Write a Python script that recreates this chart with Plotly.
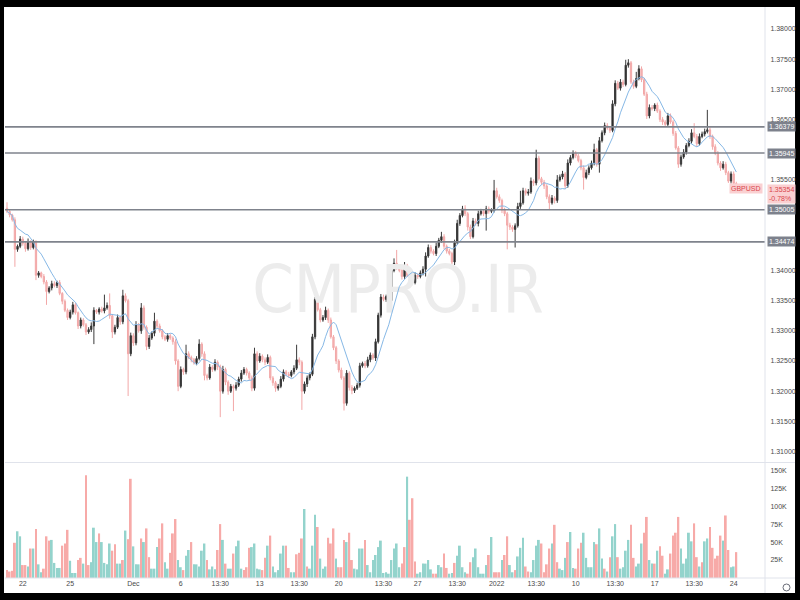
import plotly.graph_objects as go
import pandas as pd

# ---------------- data (GBPUSD, 4h candles) ----------------
first_open = 1.3503
closes = [
    1.3498, 1.3492, 1.3484, 1.3435, 1.3440, 1.3452,
    1.3445, 1.3436, 1.3448, 1.3438, 1.3447, 1.3392,
    1.3396, 1.3390, 1.3381, 1.3365, 1.3371, 1.3378,
    1.3375, 1.3380, 1.3362, 1.3349, 1.3334, 1.3322,
    1.3331, 1.3343, 1.3330, 1.3308, 1.3318, 1.3310,
    1.3298, 1.3302, 1.3308, 1.3334, 1.3331, 1.3336,
    1.3333, 1.3338, 1.3342, 1.3325, 1.3298, 1.3306,
    1.3322, 1.3315, 1.3358, 1.3350, 1.3262, 1.3292,
    1.3280, 1.3310, 1.3300, 1.3338, 1.3306, 1.3274,
    1.3288, 1.3296, 1.3316, 1.3308, 1.3300, 1.3290,
    1.3286, 1.3292, 1.3288, 1.3282, 1.3250, 1.3208,
    1.3236, 1.3232, 1.3262, 1.3256, 1.3252, 1.3247,
    1.3254, 1.3278, 1.3262, 1.3226, 1.3222, 1.3240,
    1.3236, 1.3248, 1.3240, 1.3200, 1.3236, 1.3215,
    1.3200, 1.3208, 1.3205, 1.3210, 1.3220, 1.3230,
    1.3236, 1.3230, 1.3222, 1.3205, 1.3262, 1.3250,
    1.3258, 1.3252, 1.3248, 1.3256, 1.3222, 1.3214,
    1.3205, 1.3208, 1.3220, 1.3232, 1.3228, 1.3226,
    1.3232, 1.3238, 1.3252, 1.3248, 1.3200, 1.3212,
    1.3222, 1.3228, 1.3290, 1.3352, 1.3335, 1.3318,
    1.3322, 1.3334, 1.3318, 1.3290, 1.3272, 1.3250,
    1.3235, 1.3222, 1.3180, 1.3230, 1.3206, 1.3201,
    1.3205, 1.3210, 1.3242, 1.3246, 1.3242, 1.3252,
    1.3260, 1.3255, 1.3282, 1.3326, 1.3356, 1.3352,
    1.3357, 1.3350, 1.3400, 1.3412, 1.3405, 1.3400,
    1.3390, 1.3408, 1.3392, 1.3388, 1.3380, 1.3392,
    1.3390, 1.3396, 1.3402, 1.3424, 1.3438, 1.3432,
    1.3428, 1.3440, 1.3450, 1.3456, 1.3440, 1.3432,
    1.3428, 1.3414, 1.3446, 1.3478, 1.3491, 1.3502,
    1.3494, 1.3472, 1.3456, 1.3482, 1.3478, 1.3494,
    1.3498, 1.3494, 1.3502, 1.3498, 1.3500, 1.3532,
    1.3522, 1.3516, 1.3500, 1.3494, 1.3475, 1.3472,
    1.3468, 1.3474, 1.3506, 1.3512, 1.3532, 1.3528,
    1.3530, 1.3548, 1.3545, 1.3586, 1.3552, 1.3546,
    1.3540, 1.3522, 1.3512, 1.3520, 1.3516, 1.3550,
    1.3555, 1.3560, 1.3540, 1.3578, 1.3587, 1.3594,
    1.3590, 1.3582, 1.3570, 1.3554, 1.3562, 1.3570,
    1.3578, 1.3600, 1.3576, 1.3615, 1.3628, 1.3640,
    1.3636, 1.3632, 1.3676, 1.3710, 1.3702, 1.3712,
    1.3708, 1.3740, 1.3744, 1.3712, 1.3705, 1.3718,
    1.3734, 1.3716, 1.3692, 1.3656, 1.3670, 1.3668,
    1.3674, 1.3664, 1.3650, 1.3646, 1.3642, 1.3656,
    1.3646, 1.3627, 1.3603, 1.3576, 1.3588, 1.3596,
    1.3607, 1.3614, 1.3628, 1.3622, 1.3610, 1.3622,
    1.3626, 1.3630, 1.3633, 1.3622, 1.3605, 1.3594,
    1.3578, 1.3570, 1.3576, 1.3562, 1.3548, 1.3560,
    1.3544, 1.35354,
]

# wick lengths beyond the body, in pips
wick_up_pips = [
    10, 3, 2, 4, 3, 5,   4, 3, 5, 2, 4, 3,   3, 2, 4, 3, 3, 5,   4, 3, 4, 2, 3, 3,
    4, 5, 3, 2, 4, 3,    3, 4, 6, 5, 2, 3,   4, 22, 5, 20, 3, 4, 5, 3, 10, 4, 3, 5,
    4, 6, 3, 8, 4, 3,    5, 3, 14, 3, 4, 3,  3, 4, 3, 3, 4, 3,   5, 3, 15, 4, 3, 3,
    4, 8, 3, 4, 3, 5,    3, 5, 3, 4, 6, 3,   3, 4, 3, 5, 4, 5,   4, 3, 3, 4, 10, 4,
    5, 3, 4, 5, 3, 3,    3, 4, 5, 4, 3, 4,   3, 5, 25, 4, 3, 4,  4, 3, 5, 4, 4, 3,
    4, 6, 3, 4, 3, 3,    3, 4, 3, 5, 3, 4,   3, 4, 5, 3, 4, 5,   4, 3, 5, 4, 5, 4,
    3, 4, 6, 8, 22, 4,   4, 6, 3, 4, 3, 5,   3, 4, 5, 6, 5, 4,   3, 6, 4, 8, 4, 3,
    4, 3, 5, 6, 4, 5,    6, 3, 4, 5, 4, 5,   4, 3, 5, 4, 3, 18,  5, 4, 3, 4, 3, 4,
    3, 4, 6, 20, 5, 4,   5, 6, 3, 14, 4, 3,  4, 3, 4, 5, 3, 8,   4, 5, 3, 6, 4, 5,
    4, 3, 3, 4, 5, 4,    4, 10, 3, 6, 4, 5,  4, 3, 6, 5, 4, 5,   4, 9, 6, 3, 4, 11,
    6, 4, 3, 4, 5, 4,    3, 4, 3, 4, 3, 5,   4, 3, 4, 3, 4, 5,   4, 5, 6, 16, 4, 5,
    4, 5, 33, 4, 3, 4,   4, 3, 5, 4, 3, 4,   4, 3,
]
wick_dn_pips = [
    3, 4, 3, 29, 4, 3,   4, 5, 3, 4, 3, 8,   4, 3, 4, 22, 3, 4,  3, 4, 3, 5, 3, 4,
    3, 4, 3, 5, 4, 3,    5, 3, 4, 30, 3, 4,  3, 4, 3, 5, 10, 4,  3, 5, 4, 3, 70, 4,
    5, 4, 3, 5, 4, 6,    4, 3, 5, 4, 3, 4,   3, 4, 3, 5, 6, 8,   3, 5, 4, 3, 4, 3,
    4, 3, 5, 8, 4, 3,    4, 3, 5, 43, 4, 5,  6, 3, 38, 4, 3, 4,  3, 4, 5, 5, 4, 15,
    3, 4, 5, 3, 4, 5,    6, 4, 3, 4, 3, 4,   3, 4, 3, 5, 31, 4,  5, 4, 3, 4, 3, 4,
    3, 4, 5, 3, 4, 5,    4, 3, 12, 4, 5, 6,  4, 3, 4, 3, 4, 3,   4, 3, 5, 3, 4, 3,
    4, 3, 4, 3, 4, 3,    5, 4, 3, 6, 4, 3,   4, 3, 4, 12, 3, 4,  3, 4, 3, 4, 5, 4,
    3, 4, 5, 3, 4, 3,    4, 6, 4, 3, 4, 5,   3, 4, 28, 4, 3, 4,  3, 4, 5, 4, 40, 5,
    4, 30, 3, 4, 3, 4,   4, 3, 5, 4, 3, 4,   5, 4, 12, 3, 5, 4,  3, 4, 5, 3, 4, 3,
    4, 3, 4, 20, 3, 4,   3, 4, 4, 14, 3, 4,  3, 4, 3, 4, 3, 4,   4, 3, 4, 3, 4, 3,
    3, 4, 3, 5, 4, 3,    4, 3, 4, 5, 3, 4,   3, 4, 3, 6, 4, 3,   4, 3, 4, 3, 5, 3,
    3, 4, 3, 4, 5, 3,    4, 5, 3, 4, 3, 4,   3, 4,
]

# volume in thousands, and bar colour (t = teal / up, p = pink / down)
volume_k = [
    11, 9, 10, 49, 65, 58, 18, 18, 16, 41,
    41, 68, 19, 8, 13, 58, 52, 53, 21, 14,
    14, 45, 48, 67, 24, 7, 7, 25, 28, 20,
    143, 18, 22, 70, 50, 62, 50, 21, 19, 48,
    38, 47, 20, 20, 25, 66, 54, 138, 44, 19,
    19, 55, 50, 69, 29, 13, 13, 43, 55, 76,
    22, 13, 35, 62, 82, 25, 15, 11, 31, 39,
    50, 19, 19, 16, 38, 48, 25, 12, 16, 12,
    39, 75, 53, 20, 13, 13, 34, 44, 52, 13,
    11, 15, 42, 43, 48, 13, 12, 11, 28, 45,
    59, 16, 8, 11, 34, 45, 45, 14, 8, 8,
    33, 35, 55, 96, 16, 13, 45, 88, 71, 27,
    13, 16, 56, 48, 69, 27, 15, 15, 53, 50,
    63, 25, 13, 12, 41, 41, 53, 18, 8, 25,
    32, 43, 52, 7, 8, 6, 25, 41, 48, 15,
    20, 43, 141, 81, 111, 23, 6, 8, 20, 20,
    25, 12, 6, 6, 18, 15, 34, 14, 6, 7,
    21, 31, 45, 15, 8, 6, 22, 29, 41, 15,
    6, 6, 18, 32, 57, 8, 8, 8, 25, 32,
    58, 18, 8, 11, 30, 42, 56, 16, 9, 8,
    25, 45, 53, 48, 8, 19, 41, 48, 74, 22,
    13, 11, 28, 50, 64, 14, 13, 41, 49, 63,
    28, 15, 15, 50, 47, 69, 27, 13, 9, 29,
    58, 75, 29, 13, 15, 38, 53, 74, 28, 16,
    20, 48, 63, 85, 25, 20, 20, 38, 44, 31,
    6, 12, 34, 59, 63, 85, 41, 20, 27, 63,
    51, 76, 29, 16, 22, 51, 55, 71, 42, 27,
    31, 59, 52, 87, 39, 15, 16, 36,
]
volume_dir = (
    "ppppttpptp" "tpttpppttt" "tppptttppt" "pptttptttt" "ppttptpptt"
    "tptpptttpp" "ttpppttptt" "ptttttpttt" "pptpttpttt" "pppttttppt"
    "ptttttpptt" "ppptptttpt" "ttppptpppt" "ppttttpttt" "ttttttttt" "t"
    "pptppptttt" "ttppttpptt" "pttttppttt" "tttptppptp" "pttptttppt"
    "tttpppptpp" "tttpttpppt" "ttttpttptp" "ttpttttppt" "ttppttptpp"
    "ttpppptttt" "tpptpttppp" "pptppttp"
)

levels = [1.36379, 1.35945, 1.35005, 1.34474]
level_labels = ["1.36379", "1.35945", "1.35005", "1.34474"]
last_price = 1.35354
last_price_label = "1.35354"
change_label = "-0.78%"
symbol = "GBPUSD"
watermark = "CMPRO.IR"

time_tick_idx = [6, 24, 48, 66, 81, 96, 111, 126, 143, 156, 171, 186, 201, 216, 231, 246, 261, 276]
time_tick_text = ["22", "25", "Dec", "6", "13:30", "13", "13:30", "20", "13:30", "27",
                  "13:30", "2022", "13:30", "10", "13:30", "17", "13:30", "24"]
# 1.345, 1.350 and 1.360 sit under the level labels, so they are not shown
price_ticks = [1.31, 1.315, 1.32, 1.325, 1.33, 1.335, 1.34, 1.355,
               1.365, 1.37, 1.375, 1.38]
vol_ticks = [25000, 50000, 75000, 100000, 125000, 150000]
vol_tick_text = ["25K", "50K", "75K", "100K", "125K", "150K"]

# ---------------- derived ----------------
idx = list(range(len(closes)))
opens = [first_open] + closes[:-1]
highs = [max(o, c) + u * 0.0001 for o, c, u in zip(opens, closes, wick_up_pips)]
lows = [min(o, c) - d * 0.0001 for o, c, d in zip(opens, closes, wick_dn_pips)]
ma = pd.Series(closes).rolling(9, min_periods=1).mean().tolist()
volumes = [v * 1000 for v in volume_k]
vol_colors = ["#93d3cc" if d == "t" else "#f7aaa8" for d in volume_dir]

FONT = "Liberation Sans, Roboto, Arial, sans-serif"
TICKC = "#4a4a4a"

fig = go.Figure()

# watermark below everything
fig.add_trace(go.Scatter(
    x=[148.5], y=[1.3358], mode="text", text=[watermark],
    textfont=dict(family="Liberation Sans Narrow, DejaVu Sans Condensed, Roboto", size=66, color="#ececec"),
    xaxis="x", yaxis="y", hoverinfo="skip", showlegend=False,
))

fig.add_trace(go.Candlestick(
    x=idx, open=opens, high=highs, low=lows, close=closes,
    increasing=dict(line=dict(color="#3a3a3a", width=1), fillcolor="#1c1c1c"),
    decreasing=dict(line=dict(color="#f2a7a7", width=1), fillcolor="#f5b8b8"),
    whiskerwidth=0, xaxis="x", yaxis="y", showlegend=False,
))

fig.add_trace(go.Scatter(
    x=idx, y=ma, mode="lines", line=dict(color="#86b8e6", width=1),
    xaxis="x", yaxis="y", hoverinfo="skip", showlegend=False,
))

fig.add_trace(go.Bar(
    x=idx, y=volumes, marker=dict(color=vol_colors, line=dict(width=0)),
    xaxis="x", yaxis="y2", showlegend=False,
))

shapes = []
# white panel on black paper
shapes.append(dict(type="rect", xref="paper", yref="paper", x0=-0.0013, x1=1.0395,
                   y0=-0.0263, y1=1.0, fillcolor="white", line=dict(width=0), layer="below"))
# horizontal levels
for lv in levels:
    shapes.append(dict(type="line", xref="x domain", yref="y", x0=0, x1=1, y0=lv, y1=lv,
                       line=dict(color="#7f838c", width=1.6)))
# pane separator and bottom line
shapes.append(dict(type="line", xref="paper", yref="paper", x0=0, x1=1.0395, y0=0.2023, y1=0.2023,
                   line=dict(color="#e0e3eb", width=1)))
shapes.append(dict(type="line", xref="paper", yref="paper", x0=0, x1=1.0395, y0=0, y1=0,
                   line=dict(color="#e0e3eb", width=1)))
# price-axis border
shapes.append(dict(type="line", xref="paper", yref="paper", x0=1, x1=1, y0=-0.0263, y1=1,
                   line=dict(color="#e0e3eb", width=1)))
# settings icon
shapes.append(dict(type="circle", xref="paper", yref="paper",
                   x0=1.0237, x1=1.0329, y0=-0.0227, y1=-0.0105,
                   line=dict(color="#6a6d78", width=1)))

annotations = []
for lv, lab in zip(levels, level_labels):
    annotations.append(dict(xref="paper", yref="y", x=1, y=lv, xanchor="left", yanchor="middle",
                            xshift=2, text=lab, showarrow=False,
                            font=dict(family=FONT, size=7, color="white"),
                            bgcolor="#7d818c", borderpad=1))
annotations.append(dict(xref="paper", yref="y", x=1, y=last_price, xanchor="left", yanchor="top",
                        xshift=2, yshift=5, text=last_price_label + "<br>" + change_label,
                        showarrow=False, align="left",
                        font=dict(family=FONT, size=7, color="#d9464d"),
                        bgcolor="#fad0d1", borderpad=1))
annotations.append(dict(xref="paper", yref="y", x=1, y=last_price, xanchor="right", yanchor="middle",
                        xshift=-2, text=symbol, showarrow=False,
                        font=dict(family=FONT, size=7, color="#d9464d"),
                        bgcolor="#fad0d1", borderpad=1))

fig.update_layout(
    width=800, height=600,
    paper_bgcolor="black", plot_bgcolor="white",
    margin=dict(l=5, r=35, t=7, b=22),
    showlegend=False, bargap=0.3, hovermode=False,
    font=dict(family=FONT, size=7, color=TICKC),
    xaxis=dict(
        anchor="y2", range=[-0.76, 287.9], rangeslider=dict(visible=False),
        tickmode="array", tickvals=time_tick_idx, ticktext=time_tick_text,
        tickfont=dict(family=FONT, size=7, color=TICKC),
        showgrid=False, zeroline=False, showline=False, ticks="", ticklen=0,
    ),
    yaxis=dict(
        domain=[0.2032, 1], anchor="x", side="right",
        range=[1.308275, 1.383644],
        tickmode="array", tickvals=price_ticks, tickformat=".5f",
        tickfont=dict(family=FONT, size=7, color=TICKC),
        showgrid=False, zeroline=False, showline=False, ticks="outside",
        ticklen=3, tickcolor="rgba(0,0,0,0)", automargin=False,
    ),
    yaxis2=dict(
        domain=[0, 0.2014], anchor="x", side="right", range=[0, 160000],
        tickmode="array", tickvals=vol_ticks, ticktext=vol_tick_text,
        tickfont=dict(family=FONT, size=7, color=TICKC),
        showgrid=False, zeroline=False, showline=False, ticks="outside",
        ticklen=3, tickcolor="rgba(0,0,0,0)", automargin=False,
    ),
    shapes=shapes, annotations=annotations,
)

fig.write_html(
    "out.html",
    config={"displayModeBar": False},
    post_script="document.body.style.margin='0';document.body.style.background='black';",
)
